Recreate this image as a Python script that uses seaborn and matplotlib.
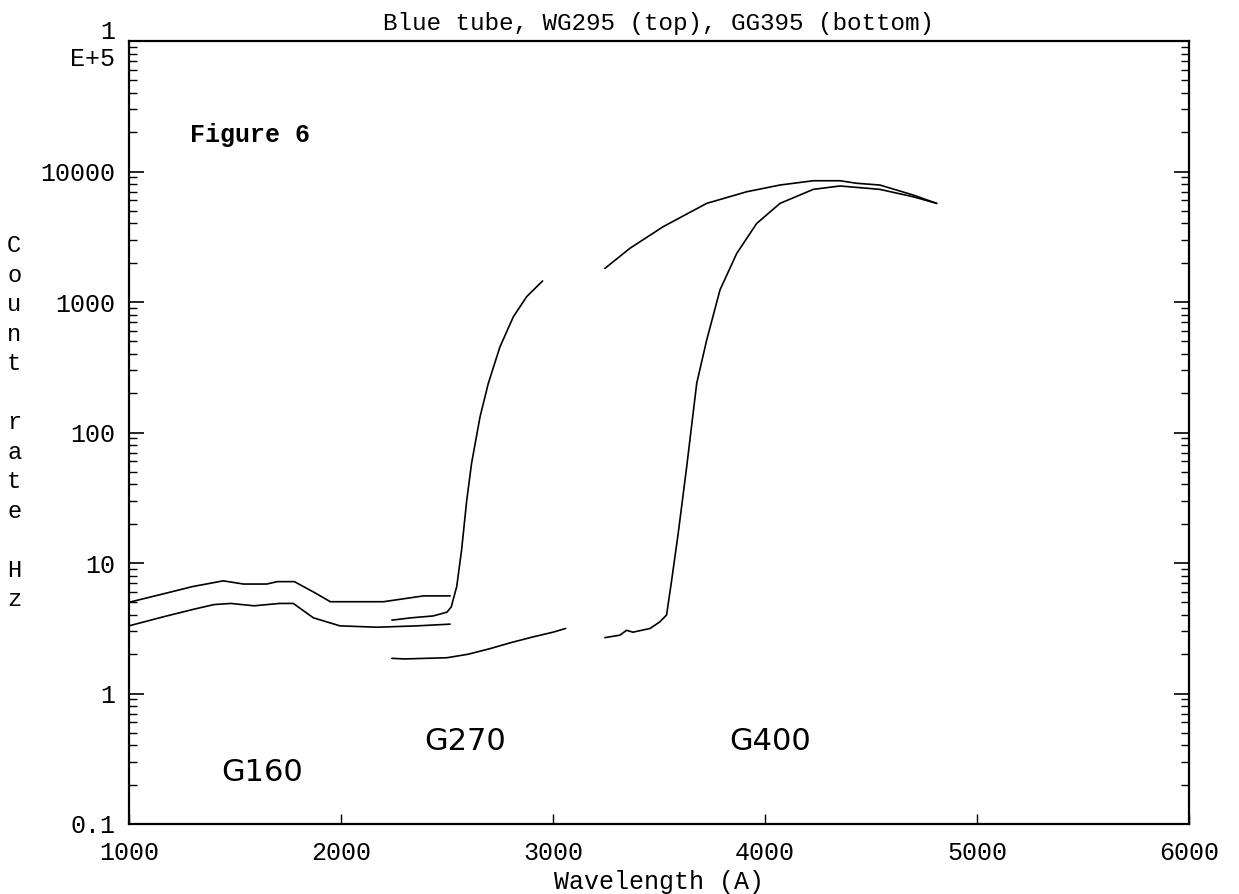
import numpy as np
import pandas as pd
import seaborn as sns
import matplotlib.pyplot as plt
from matplotlib.ticker import FixedLocator, LogLocator, NullFormatter

# G160 segment, WG295 (top) and GG395 (bottom)
g160_top_x = [1000, 1180, 1300, 1445, 1540, 1650, 1700, 1780, 1870, 1950, 2200, 2390, 2515]
g160_top_y = [5.0, 5.9, 6.6, 7.3, 6.9, 6.9, 7.2, 7.2, 6.0, 5.05, 5.05, 5.6, 5.6]
g160_bot_x = [1000, 1170, 1300, 1400, 1480, 1590, 1710, 1775, 1870, 1995, 2170, 2360, 2515]
g160_bot_y = [3.3, 3.9, 4.4, 4.8, 4.9, 4.7, 4.9, 4.9, 3.8, 3.3, 3.22, 3.3, 3.4]

# G270 segment
g270_top_x = [2240, 2330, 2435, 2500, 2520, 2546, 2569, 2593, 2616, 2656, 2695, 2750, 2813, 2876, 2951]
g270_top_y = [3.65, 3.8, 3.93, 4.2, 4.6, 6.6, 12.6, 30, 58, 132, 238, 454, 770, 1100, 1450]
g270_bot_x = [2240, 2300, 2400, 2500, 2600, 2700, 2800, 2900, 3000, 3060]
g270_bot_y = [1.86, 1.84, 1.86, 1.88, 2.0, 2.2, 2.45, 2.7, 2.95, 3.15]

# G400 segment
g400_top_x = [3245, 3363, 3520, 3725, 3914, 4071, 4228, 4354, 4432, 4542, 4700, 4810]
g400_top_y = [1810, 2580, 3780, 5700, 7000, 7880, 8500, 8500, 8130, 7880, 6600, 5700]
g400_bot_x = [3245, 3316, 3347, 3377, 3458, 3505, 3536, 3560, 3591, 3631, 3678, 3725,
              3788, 3867, 3961, 4071, 4228, 4354, 4542, 4700, 4810]
g400_bot_y = [2.68, 2.8, 3.05, 2.95, 3.15, 3.55, 4.0, 7.4, 17, 55, 238, 510,
              1240, 2360, 4000, 5700, 7300, 7750, 7300, 6400, 5700]

segments = [(g160_top_x, g160_top_y), (g160_bot_x, g160_bot_y),
            (g270_top_x, g270_top_y), (g270_bot_x, g270_bot_y),
            (g400_top_x, g400_top_y), (g400_bot_x, g400_bot_y)]

y_ticks = [0.1, 1, 10, 100, 1000, 10000, 100000]
y_labels = ['0.1', '1', '10', '100', '1000', '10000', '1\nE+5']
x_ticks = [1000, 2000, 3000, 4000, 5000, 6000]

sns.set_style('ticks')
plt.rcParams['font.family'] = ['Liberation Mono', 'DejaVu Sans']
plt.rcParams['text.color'] = 'black'
plt.rcParams['axes.labelcolor'] = 'black'
plt.rcParams['xtick.color'] = 'black'
plt.rcParams['ytick.color'] = 'black'

fig = plt.figure(figsize=(12.39, 8.94), dpi=100)
ax = fig.add_axes([0.1041, 0.0783, 0.8555, 0.8758])

for sx, sy in segments:
    sns.lineplot(x=sx, y=sy, ax=ax, color='black', linewidth=1.2, sort=False)

ax.set_yscale('log')
ax.set_xlim(1000, 6000)
ax.set_ylim(0.1, 100000)

ax.yaxis.set_major_locator(FixedLocator(y_ticks))
ax.set_yticklabels(y_labels, fontsize=18)
ax.yaxis.set_minor_locator(LogLocator(base=10, subs=np.arange(2, 10)))
ax.yaxis.set_minor_formatter(NullFormatter())
ax.set_xticks(x_ticks)
ax.set_xticklabels([str(v) for v in x_ticks], fontsize=18)

ax.tick_params(axis='y', which='major', direction='in', length=11, width=1.2,
               left=True, right=True, pad=10)
ax.tick_params(axis='y', which='minor', direction='in', length=6, width=1.0,
               left=True, right=True)
ax.tick_params(axis='x', which='major', direction='in', length=7, width=1.0,
               bottom=True, top=False, pad=12)
for sp in ax.spines.values():
    sp.set_linewidth(1.6)
    sp.set_color('black')

ax.set_title('Blue tube, WG295 (top), GG395 (bottom)', fontsize=17.5, pad=8)
ax.set_xlabel('Wavelength (A)', fontsize=18, labelpad=4)
fig.text(0.0115, 0.527, 'C\no\nu\nn\nt\n\nr\na\nt\ne\n\nH\nz', fontsize=17,
         ha='center', va='center', linespacing=1.36)

ax.text(1288, 19000, 'Figure 6', fontsize=18, fontweight='bold', ha='left', va='center')
for lab, lx, ly in [('G160', 1627, 0.25), ('G270', 2585, 0.425), ('G400', 4024, 0.43)]:
    ax.text(lx, ly, lab, fontsize=22, ha='center', va='center', color='black',
            family=['DejaVu Sans'])

fig.savefig('out.png', dpi=100, facecolor='white')
